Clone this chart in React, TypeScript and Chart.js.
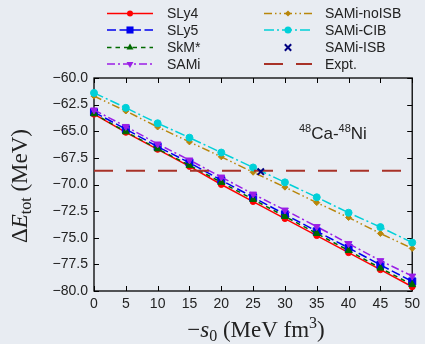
import React, { useEffect, useRef } from 'react';
import { Chart, registerables } from 'chart.js';

Chart.register(...registerables);

// ---- data ----
const sValues = [0, 5, 10, 15, 20, 25, 30, 35, 40, 45, 50];
const sly4 = [-63.4, -65.1, -66.7, -68.3, -70.0, -71.6, -73.2, -74.8, -76.4, -78.0, -79.6];
const sly5 = [-63.2, -64.8, -66.45, -67.95, -69.6, -71.2, -72.8, -74.4, -75.95, -77.55, -79.1];
const skmStar = [-63.35, -65.05, -66.65, -68.2, -69.8, -71.4, -73.0, -74.6, -76.2, -77.85, -79.4];
const sami = [-63.0, -64.55, -66.2, -67.7, -69.3, -70.9, -72.4, -73.95, -75.55, -77.15, -78.6];
const samiNoISB = [-61.7, -63.1, -64.6, -66.0, -67.4, -68.85, -70.25, -71.7, -73.1, -74.6, -76.0];
const samiCIB = [-61.4, -62.8, -64.25, -65.6, -67.0, -68.4, -69.8, -71.2, -72.65, -74.0, -75.45];
const samiISBs = [26.2];
const samiISBe = [-68.8];
const exptS = [0, 50];
const exptE = [-68.7, -68.7];
const xTicks = [0, 5, 10, 15, 20, 25, 30, 35, 40, 45, 50];
const yTicks = [-80, -77.5, -75, -72.5, -70, -67.5, -65, -62.5, -60];
const legendCol1 = ['SLy4', 'SLy5', 'SkM*', 'SAMi'];
const legendCol2 = ['SAMi-noISB', 'SAMi-CIB', 'SAMi-ISB', 'Expt.'];

const BG = '#e8ecf2';
const SANS = "'Liberation Sans', Arial, sans-serif";
const SERIF = "'Liberation Serif', 'Times New Roman', serif";
const TEXT = '#222222';

const pts = (xs: number[], ys: number[]) => xs.map((x, i) => ({ x, y: ys[i] }));

function drawMarker(ctx: CanvasRenderingContext2D, style: string, x: number, y: number, r: number, rot: number, color: string) {
  ctx.save();
  ctx.fillStyle = color;
  ctx.strokeStyle = color;
  ctx.setLineDash([]);
  ctx.lineWidth = 1;
  ctx.translate(x, y);
  ctx.rotate((rot * Math.PI) / 180);
  ctx.beginPath();
  if (style === 'circle') {
    ctx.arc(0, 0, r, 0, Math.PI * 2);
    ctx.fill();
  } else if (style === 'rect') {
    const s = r * Math.SQRT1_2;
    ctx.rect(-s, -s, 2 * s, 2 * s);
    ctx.fill();
  } else if (style === 'rectRot') {
    ctx.moveTo(0, -r);
    ctx.lineTo(r, 0);
    ctx.lineTo(0, r);
    ctx.lineTo(-r, 0);
    ctx.closePath();
    ctx.fill();
  } else if (style === 'triangle') {
    for (let k = 0; k < 3; k++) {
      const a = -Math.PI / 2 + (k * 2 * Math.PI) / 3;
      const px = Math.cos(a) * r;
      const py = Math.sin(a) * r;
      if (k === 0) ctx.moveTo(px, py);
      else ctx.lineTo(px, py);
    }
    ctx.closePath();
    ctx.fill();
  } else if (style === 'crossRot') {
    const s = r * Math.SQRT1_2;
    ctx.lineWidth = 2;
    ctx.moveTo(-s, -s);
    ctx.lineTo(s, s);
    ctx.moveTo(s, -s);
    ctx.lineTo(-s, s);
    ctx.stroke();
  }
  ctx.restore();
}

type Seg = { t: string; size: number; italic?: boolean; dy?: number };

function drawSegs(ctx: CanvasRenderingContext2D, segs: Seg[], cx: number, baseline: number) {
  let total = 0;
  const widths = segs.map((s) => {
    ctx.font = `${s.italic ? 'italic ' : ''}${s.size}px ${SERIF}`;
    const w = ctx.measureText(s.t).width;
    total += w;
    return w;
  });
  let x = cx - total / 2;
  segs.forEach((s, i) => {
    ctx.font = `${s.italic ? 'italic ' : ''}${s.size}px ${SERIF}`;
    ctx.fillText(s.t, x, baseline + (s.dy || 0));
    x += widths[i];
  });
}

const framePlugin = {
  id: 'frame',
  beforeDatasetsDraw(chart: any) {
    const { ctx, chartArea: a, scales } = chart;
    ctx.save();
    ctx.strokeStyle = '#000';
    ctx.lineWidth = 1.3;
    ctx.setLineDash([]);
    ctx.strokeRect(a.left, a.top, a.right - a.left, a.bottom - a.top);
    ctx.lineWidth = 1;
    ctx.beginPath();
    for (const t of xTicks) {
      const px = Math.round(scales.x.getPixelForValue(t)) + 0.5;
      ctx.moveTo(px, a.bottom);
      ctx.lineTo(px, a.bottom - 5);
      ctx.moveTo(px, a.top);
      ctx.lineTo(px, a.top + 5);
    }
    for (const t of yTicks) {
      const py = Math.round(scales.y.getPixelForValue(t)) + 0.5;
      ctx.moveTo(a.left, py);
      ctx.lineTo(a.left + 5, py);
      ctx.moveTo(a.right, py);
      ctx.lineTo(a.right - 5, py);
    }
    ctx.stroke();
    ctx.restore();
  },
};

const textPlugin = {
  id: 'texts',
  afterDraw(chart: any) {
    const { ctx, scales } = chart;
    ctx.save();
    ctx.fillStyle = TEXT;
    ctx.textBaseline = 'alphabetic';
    ctx.textAlign = 'left';

    // x title
    drawSegs(
      ctx,
      [
        { t: '\u2212', size: 23 },
        { t: 's', size: 23, italic: true },
        { t: '0', size: 16, dy: 4 },
        { t: ' (MeV fm', size: 23 },
        { t: '3', size: 16, dy: -9 },
        { t: ')', size: 23 },
      ],
      256,
      337
    );

    // y title
    ctx.save();
    ctx.translate(27, 186);
    ctx.rotate(-Math.PI / 2);
    drawSegs(
      ctx,
      [
        { t: '\u0394', size: 23 },
        { t: 'E', size: 23, italic: true },
        { t: 'tot', size: 16, dy: 4 },
        { t: ' (MeV)', size: 23 },
      ],
      0,
      0
    );
    ctx.restore();

    // annotation 48Ca-48Ni
    let x = scales.x.getPixelForValue(32.2);
    const base = scales.y.getPixelForValue(-65.73);
    const parts: [string, number, number][] = [
      ['48', 11, -7],
      ['Ca-', 17, 0],
      ['48', 11, -7],
      ['Ni', 17, 0],
    ];
    for (const [t, sz, dy] of parts) {
      ctx.font = `${sz}px ${SANS}`;
      ctx.fillText(t, x, base + dy);
      x += ctx.measureText(t).width;
    }

    // legend
    const datasets = chart.data.datasets;
    const cols = [
      { labels: legendCol1, x0: 107, x1: 153, tx: 167 },
      { labels: legendCol2, x0: 264, x1: 312, tx: 325 },
    ];
    const rowY = [13.5, 30, 47.5, 64];
    ctx.font = `14px ${SANS}`;
    ctx.textBaseline = 'middle';
    for (const c of cols) {
      c.labels.forEach((lab, r) => {
        const ds = datasets.find((d: any) => d.label === lab);
        if (!ds) return;
        const y = rowY[r];
        if (ds.showLine !== false) {
          ctx.save();
          ctx.strokeStyle = ds.borderColor;
          ctx.lineWidth = ds.borderWidth;
          ctx.setLineDash(ds.borderDash || []);
          ctx.beginPath();
          ctx.moveTo(c.x0, y);
          ctx.lineTo(c.x1, y);
          ctx.stroke();
          ctx.restore();
        }
        if (ds.pointRadius > 0) {
          drawMarker(ctx, ds.pointStyle, (c.x0 + c.x1) / 2, y, ds.pointRadius, ds.pointRotation || 0, ds.pointBackgroundColor);
        }
        ctx.fillStyle = TEXT;
        ctx.fillText(lab, c.tx, y + 1);
      });
    }
    ctx.restore();
  },
};

function lineDs(label: string, ys: number[], color: string, dash: number[], style: string, r: number, rot: number, order: number) {
  return {
    label,
    data: pts(sValues, ys),
    borderColor: color,
    backgroundColor: color,
    pointBackgroundColor: color,
    pointBorderColor: color,
    borderWidth: 1.5,
    borderDash: dash,
    pointStyle: style,
    pointRadius: r,
    pointRotation: rot,
    pointBorderWidth: 1,
    tension: 0,
    clip: false,
    order,
  };
}

export default function App() {
  const ref = useRef<HTMLCanvasElement | null>(null);
  useEffect(() => {
    if (!ref.current) return;
    const tickFont = { family: SANS, size: 14 };
    const chart = new Chart(ref.current, {
      type: 'line',
      data: {
        datasets: [
          lineDs('SLy4', sly4, '#ff0000', [], 'circle', 3, 0, 0),
          lineDs('SLy5', sly5, '#0000ee', [9, 3.5], 'rect', 5, 0, -1),
          lineDs('SkM*', skmStar, '#006a00', [4.5, 4], 'triangle', 4, 0, -2),
          lineDs('SAMi', sami, '#9a1ee6', [8, 3, 2, 3], 'triangle', 4, 180, -3),
          lineDs('SAMi-noISB', samiNoISB, '#b8860b', [8, 3, 1.5, 3, 1.5, 3], 'rectRot', 3, 0, -4),
          lineDs('SAMi-CIB', samiCIB, '#00d0d8', [10, 3, 2, 3], 'circle', 3.5, 0, -5),
          {
            label: 'Expt.',
            data: pts(exptS, exptE),
            borderColor: '#a83228',
            backgroundColor: '#a83228',
            pointBackgroundColor: '#a83228',
            borderWidth: 2,
            borderDash: [19, 13],
            pointRadius: 0,
            clip: false,
            order: -6,
          },
          {
            label: 'SAMi-ISB',
            data: pts(samiISBs, samiISBe),
            showLine: false,
            borderColor: '#000080',
            backgroundColor: '#000080',
            pointBackgroundColor: '#000080',
            pointBorderColor: '#000080',
            pointStyle: 'crossRot',
            pointRadius: 4.5,
            pointBorderWidth: 2,
            borderWidth: 2,
            clip: false,
            order: -7,
          },
        ] as any,
      },
      options: {
        responsive: false,
        animation: false,
        events: [],
        layout: { padding: { top: 78, right: 8, left: 0, bottom: 0 } },
        plugins: { legend: { display: false }, tooltip: { enabled: false }, title: { display: false } },
        scales: {
          x: {
            type: 'linear',
            min: 0,
            max: 50,
            afterFit: (s: any) => {
              s.height = 53;
            },
            afterBuildTicks: (s: any) => {
              s.ticks = xTicks.map((v) => ({ value: v }));
            },
            grid: { display: false, drawTicks: false },
            border: { display: false },
            ticks: { font: tickFont, color: TEXT, padding: 5, maxRotation: 0, autoSkip: false, callback: (v: any) => String(v) },
          },
          y: {
            type: 'linear',
            min: -80,
            max: -60,
            afterFit: (s: any) => {
              s.width = 94;
            },
            afterBuildTicks: (s: any) => {
              s.ticks = yTicks.map((v) => ({ value: v }));
            },
            grid: { display: false, drawTicks: false },
            border: { display: false },
            ticks: {
              font: tickFont,
              color: TEXT,
              padding: 6,
              autoSkip: false,
              callback: (v: any) => (Number(v) < 0 ? '\u2212' : '') + Math.abs(Number(v)).toFixed(1),
            },
          },
        },
      } as any,
      plugins: [framePlugin, textPlugin],
    });
    return () => chart.destroy();
  }, []);
  return (
    <div style={{ position: 'fixed', left: 0, top: 0, width: 425, height: 344, background: BG }}>
      <canvas ref={ref} width={425} height={344} style={{ display: 'block', width: 425, height: 344 }} />
    </div>
  );
}
